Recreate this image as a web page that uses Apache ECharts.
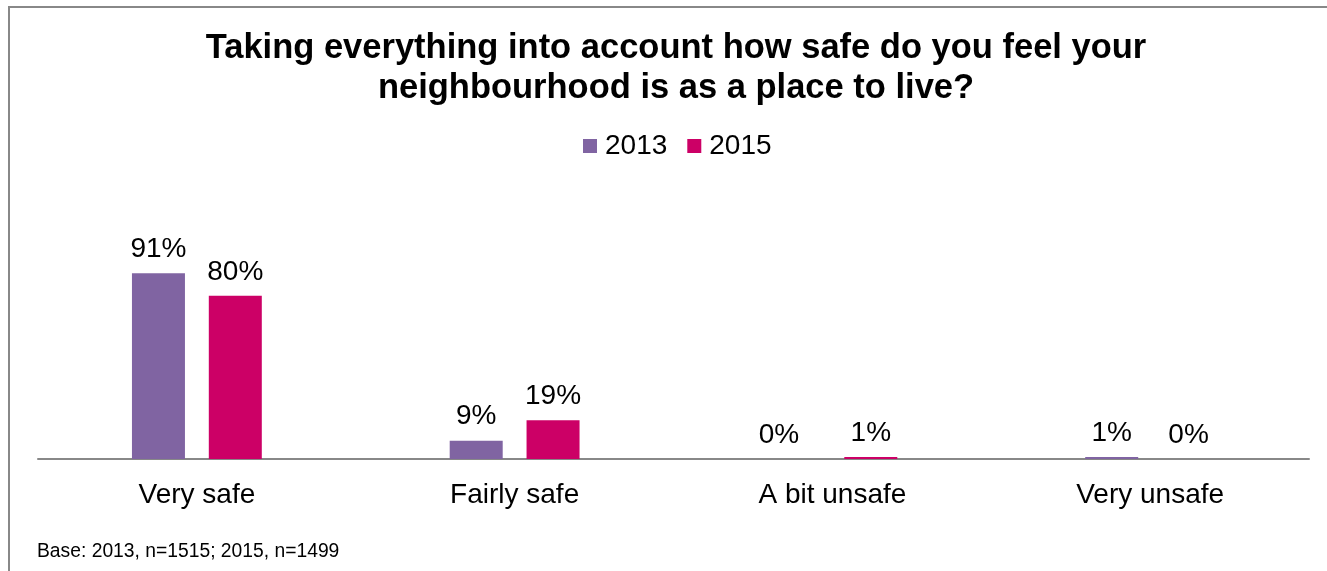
<!DOCTYPE html>
<html>
<head>
<meta charset="utf-8">
<script src="https://cdn.jsdelivr.net/npm/echarts@6/dist/echarts.min.js"></script>
<style>
  html, body { margin: 0; padding: 0; background: #ffffff; }
  #chart { width: 1327px; height: 571px; }
</style>
</head>
<body>
<div id="chart"></div>
<script>
// Survey answers: how safe respondents feel in their neighbourhood
const categories = ['Very safe', 'Fairly safe', 'A bit unsafe', 'Very unsafe'];
const years = ['2013', '2015'];
const values2013 = [91, 9, 0, 1];
const values2015 = [80, 19, 1, 0];
const titleText = 'Taking everything into account how safe do you feel your\nneighbourhood is as a place to live?';
const baseNote = 'Base: 2013, n=1515; 2015, n=1499';

const colors = ['#8064A2', '#CC0066'];
const font = '"Liberation Sans", Arial, sans-serif';

const labelStyle = {
  show: true,
  position: 'top',
  distance: 10,
  formatter: '{c}%',
  fontFamily: font,
  fontSize: 28,
  color: '#000000'
};

function buildSeries(name, values, color, nudges) {
  return {
    name: name,
    type: 'bar',
    barWidth: 53,
    barGap: '45%',
    itemStyle: { color: color },
    label: labelStyle,
    data: values.map(function (v, i) {
      return nudges[i] ? { value: v, label: { offset: nudges[i] } } : v;
    })
  };
}

const chart = echarts.init(document.getElementById('chart'), null, { renderer: 'canvas' });

chart.setOption({
  animation: false,
  backgroundColor: '#ffffff',
  color: colors,
  title: {
    text: titleText,
    left: 671,
    top: 23,
    textAlign: 'center',
    textStyle: {
      fontFamily: font,
      fontSize: 34.5,
      fontWeight: 'bold',
      color: '#000000',
      lineHeight: 40
    }
  },
  legend: {
    data: years,
    left: 676,
    top: 127,
    align: 'left',
    icon: 'rect',
    itemWidth: 14,
    itemHeight: 14,
    itemGap: 20,
    textStyle: { fontFamily: font, fontSize: 28, color: '#000000', padding: [0, 0, 0, 3] }
  },
  grid: { left: 38, right: 18, top: 255, bottom: 112, containLabel: false },
  xAxis: {
    type: 'category',
    data: categories,
    axisLine: { lineStyle: { color: '#888888', width: 2 } },
    axisTick: { show: false },
    axisLabel: { fontFamily: font, fontSize: 28, color: '#000000', margin: 22 }
  },
  yAxis: {
    type: 'value',
    min: 0,
    max: 100,
    show: false
  },
  series: [
    buildSeries(years[0], values2013, colors[0], { 2: [-15, 0] }),
    buildSeries(years[1], values2015, colors[1], {})
  ],
  graphic: [
    {
      type: 'rect',
      silent: true,
      shape: { x: 9, y: 7, width: 1400, height: 700 },
      style: { fill: 'none', stroke: '#888888', lineWidth: 2 }
    },
    {
      type: 'text',
      left: 37,
      top: 542,
      style: { text: baseNote, fontFamily: font, fontSize: 19.3, fill: '#000000' }
    }
  ]
});

// centre the legend on the same axis as the title
(function () {
  const legendView = chart.getViewOfComponentModel(chart.getModel().getComponent('legend'));
  if (legendView && legendView.group) {
    const rect = legendView.group.getBoundingRect();
    chart.setOption({ legend: { left: Math.round(677 - rect.width / 2) } });
  }
})();
</script>
</body>
</html>
